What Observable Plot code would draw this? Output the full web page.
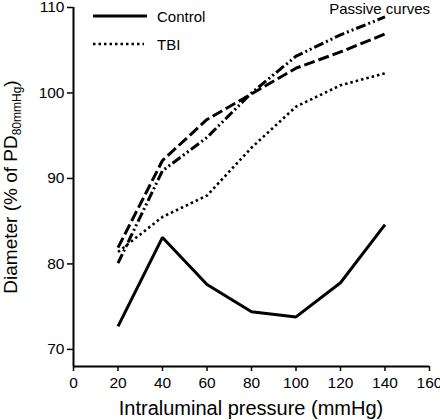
<!DOCTYPE html>
<html>
<head>
<meta charset="utf-8">
<script src="https://cdn.jsdelivr.net/npm/d3@7"></script>
<script src="https://cdn.jsdelivr.net/npm/@observablehq/plot@0.6"></script>
<style>
  html, body { margin: 0; padding: 0; background: #fff; }
  #chart svg { display: block; }
</style>
</head>
<body>
<div id="chart"></div>
<script>
// Pressure (mmHg)
const pressure = [20, 40, 60, 80, 100, 120, 140];
// Active curves
const controlActive = [72.7, 83.1, 77.6, 74.4, 73.8, 77.8, 84.6];
const tbiActive = [81.4, 85.5, 88.0, 93.6, 98.4, 100.9, 102.3];
// Passive curves
const controlPassive = [81.9, 92.1, 96.9, 99.9, 102.9, 104.8, 106.9];
const tbiPassive = [80.1, 90.9, 94.8, 100.0, 104.3, 106.8, 108.9];

const xTicks = [0, 20, 40, 60, 80, 100, 120, 140, 160];
const yTicks = [70, 80, 90, 100, 110];

const seriesDefs = [
  {name: "Control", values: controlActive, dash: null, width: 3},
  {name: "TBI", values: tbiActive, dash: "2.5,3", width: 2.6},
  {name: "Control passive", values: controlPassive, dash: "11,4", width: 3},
  {name: "TBI passive", values: tbiPassive, dash: "10,3,2,3,2,3", width: 3}
];

const font = "'Liberation Sans', Arial, Helvetica, sans-serif";

const lineMarks = seriesDefs.map(s =>
  Plot.line(pressure.map((p, i) => ({x: p, y: s.values[i]})), {
    x: "x", y: "y", stroke: "black", strokeWidth: s.width,
    strokeDasharray: s.dash || undefined, strokeLinejoin: "miter", strokeLinecap: "butt"
  })
);

const chart = Plot.plot({
  width: 440,
  height: 420,
  marginLeft: 73,
  marginRight: 11,
  marginTop: 7,
  marginBottom: 54,
  style: {fontFamily: font, fontSize: "15.5px", color: "black", background: "white"},
  x: {domain: [0, 160]},
  y: {domain: [68, 110]},
  marks: [
    Plot.axisY({ticks: yTicks, tickSize: 6, tickPadding: 3, label: null, strokeWidth: 1.5, fontSize: 15.5}),
    Plot.axisX({ticks: xTicks, tickSize: 5, tickPadding: 5, label: null, strokeWidth: 1.5, fontSize: 15.5}),
    Plot.ruleX([0], {stroke: "black", strokeWidth: 2}),
    Plot.ruleY([68], {stroke: "black", strokeWidth: 2}),
    ...lineMarks
  ]
});

document.getElementById("chart").appendChild(chart);

const svg = d3.select(chart);

// Axis titles
svg.append("text")
  .attr("x", 251).attr("y", 415)
  .attr("text-anchor", "middle")
  .attr("font-family", font).attr("font-size", 20).attr("fill", "black")
  .text("Intraluminal pressure (mmHg)");

const yl = svg.append("text")
  .attr("transform", "translate(17,187) rotate(-90)")
  .attr("text-anchor", "middle")
  .attr("font-family", font).attr("font-size", 19).attr("fill", "black");
yl.append("tspan").text("Diameter (% of PD");
yl.append("tspan").attr("font-size", 12).attr("dy", 4).text("80mmHg");
yl.append("tspan").attr("dy", -4).text(")");

// Legend
const legend = [
  {label: "Control", dash: null, width: 3, y: 16, x2: 147},
  {label: "TBI", dash: "2.5,3", width: 2.6, y: 44, x2: 144}
];
legend.forEach(l => {
  const ln = svg.append("line")
    .attr("x1", 93).attr("x2", l.x2).attr("y1", l.y).attr("y2", l.y)
    .attr("stroke", "black").attr("stroke-width", l.width);
  if (l.dash) ln.attr("stroke-dasharray", l.dash);
  svg.append("text")
    .attr("x", 157).attr("y", l.y + 5.5)
    .attr("text-anchor", "start")
    .attr("font-family", font).attr("font-size", 15).attr("fill", "black")
    .text(l.label);
});

svg.append("text")
  .attr("x", 430).attr("y", 14)
  .attr("text-anchor", "end")
  .attr("font-family", font).attr("font-size", 15).attr("fill", "black")
  .text("Passive curves");
</script>
</body>
</html>
